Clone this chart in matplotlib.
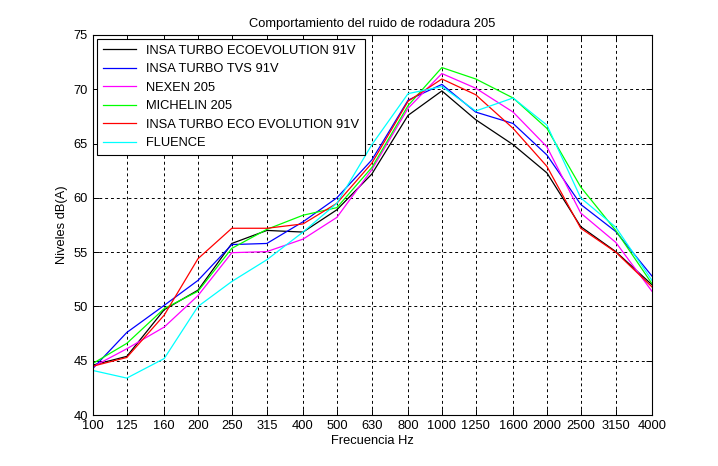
import matplotlib
matplotlib.use('Agg')
import matplotlib.pyplot as plt
from matplotlib.ticker import NullLocator

plt.rcParams['font.family'] = ['Liberation Sans', 'DejaVu Sans']

# Third-octave bands (Hz)
freqs = [100, 125, 160, 200, 250, 315, 400, 500, 630, 800,
         1000, 1250, 1600, 2000, 2500, 3150, 4000]

# Levels dB(A)
insa_ecoevolution = [44.6, 45.4, 49.7, 51.5, 55.8, 57.0, 56.85, 58.9, 62.2, 67.6,
                     69.85, 67.2, 64.9, 62.3, 57.35, 55.05, 52.0]
insa_tvs = [44.3, 47.6, 50.1, 52.4, 55.7, 55.8, 57.8, 60.0, 63.5, 69.0,
            70.45, 67.9, 66.85, 63.95, 59.4, 56.9, 52.8]
nexen = [44.45, 46.1, 48.1, 51.0, 54.95, 55.05, 56.2, 58.2, 62.6, 68.25,
         71.45, 70.1, 67.9, 64.7, 58.6, 55.9, 51.4]
michelin = [44.75, 46.6, 49.8, 51.4, 55.35, 57.1, 58.4, 59.1, 62.8, 68.5,
            72.0, 70.95, 69.2, 66.4, 61.0, 57.0, 52.1]
insa_eco_evolution = [44.5, 45.3, 49.2, 54.4, 57.2, 57.2, 57.6, 59.5, 63.2, 68.9,
                      70.95, 69.5, 66.4, 62.9, 57.2, 55.0, 51.8]
fluence = [44.1, 43.4, 45.2, 50.0, 52.3, 54.3, 56.85, 59.5, 64.9, 69.6,
           70.25, 68.0, 69.2, 66.7, 60.0, 57.3, 52.4]

labels = ['INSA TURBO ECOEVOLUTION 91V', 'INSA TURBO TVS 91V', 'NEXEN 205',
          'MICHELIN 205', 'INSA TURBO ECO EVOLUTION 91V', 'FLUENCE']
series = [insa_ecoevolution, insa_tvs, nexen, michelin, insa_eco_evolution, fluence]
colors = ['#000000', '#0000ff', '#ff00ff', '#00ff00', '#ff0000', '#00ffff']

fs = 9.3

fig = plt.figure(figsize=(7.18, 4.66), dpi=100)
ax = fig.add_axes([0.1295, 0.1094, 0.7785, 0.8155])

for vals, lab, col in zip(series, labels, colors):
    ax.plot(freqs, vals, color=col, linewidth=0.9, label=lab)

ax.set_xscale('log')
ax.set_xlim(100, 4000)
ax.set_ylim(40, 75)
ax.set_xticks(freqs)
ax.set_xticklabels([str(f) for f in freqs])
ax.xaxis.set_minor_locator(NullLocator())
ax.set_yticks(range(40, 76, 5))

ax.grid(True, color='black', linestyle=(0, (3, 3)), linewidth=0.7)
ax.tick_params(direction='in', top=True, right=True, length=4, width=0.7,
               labelsize=fs, colors='black')
for s in ax.spines.values():
    s.set_linewidth(0.8)

ax.set_title('Comportamiento del ruido de rodadura 205', fontsize=fs)
ax.set_xlabel('Frecuencia Hz', fontsize=fs, labelpad=2)
ax.set_ylabel('Niveles dB(A)', fontsize=fs)

leg = ax.legend(loc='upper left', fontsize=fs, fancybox=False, framealpha=1,
                edgecolor='black', handlelength=2.6, handletextpad=0.75,
                borderaxespad=0.3, labelspacing=0.5, borderpad=0.45)
leg.get_frame().set_linewidth(0.8)

fig.savefig('out.png', dpi=100)
